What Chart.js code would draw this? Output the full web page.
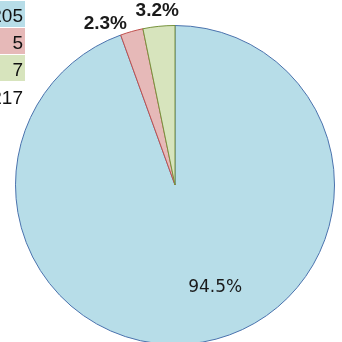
<!DOCTYPE html>
<html>
<head>
<meta charset="utf-8">
<script src="https://cdn.jsdelivr.net/npm/chart.js@4/dist/chart.umd.min.js"></script>
<style>
  html, body { margin: 0; padding: 0; background: #fff; overflow: hidden; }
  #wrap { position: relative; width: 342px; height: 342px; overflow: hidden; }
  #c { position: absolute; left: 0; top: 0; }
</style>
</head>
<body>
<div id="wrap"><canvas id="c" width="342" height="360"></canvas></div>
<script>
const categories = ['A', 'B', 'C'];
const counts = [205, 5, 7];
const fillColors = ['#b7dde8', '#e6b9b8', '#d7e4bd'];
const edgeColors = ['#4a72ad', '#c0504d', '#76923c'];

const total = counts.reduce((a, b) => a + b, 0);
const percentLabels = counts.map(v => (v / total * 100).toFixed(1) + '%');

// count table in the top-left corner, one coloured cell per category plus the total
const countTable = {
  id: 'countTable',
  afterDraw(chart) {
    const ctx = chart.ctx;
    ctx.save();
    ctx.font = '19px "Liberation Sans"';
    ctx.textAlign = 'right';
    ctx.textBaseline = 'middle';
    const rowH = 27, top = 1, cellW = 25, textRight = 23;
    counts.forEach((v, i) => {
      ctx.fillStyle = fillColors[i];
      ctx.fillRect(0, top + i * rowH, cellW, rowH - 1);
      ctx.fillStyle = '#111';
      ctx.fillText(String(v), textRight, top + i * rowH + rowH / 2 + 2);
    });
    ctx.fillStyle = '#111';
    ctx.fillText(String(total), textRight, top + counts.length * rowH + rowH / 2 + 3);
    ctx.restore();
  }
};

// percentage labels: inside for large slices, outside for thin ones
const sliceLabels = {
  id: 'sliceLabels',
  afterDatasetsDraw(chart) {
    const ctx = chart.ctx;
    const arcs = chart.getDatasetMeta(0).data;
    ctx.save();
    ctx.textAlign = 'center';
    ctx.textBaseline = 'middle';
    ctx.fillStyle = '#1a1a1a';
    arcs.forEach((arc, i) => {
      const share = counts[i] / total;
      const mid = (arc.startAngle + arc.endAngle) / 2;
      let x, y;
      if (share > 0.5) {
        ctx.font = '17px "DejaVu Sans"';
        const r = arc.outerRadius * 0.69;
        const a = mid - 0.2;
        x = arc.x + Math.cos(a) * r;
        y = arc.y + Math.sin(a) * r;
      } else {
        ctx.font = 'bold 19px "Liberation Sans"';
        const r = arc.outerRadius + 16;
        x = arc.x + Math.cos(mid) * r;
        y = arc.y + Math.sin(mid) * r;
        // push the smaller neighbour sideways so the two labels do not collide
        if (i === 1) { x -= 22; y += 8; }
      }
      ctx.fillText(percentLabels[i], x, y);
    });
    ctx.restore();
  }
};

new Chart(document.getElementById('c'), {
  type: 'pie',
  data: {
    labels: categories,
    datasets: [{
      data: counts,
      backgroundColor: fillColors,
      borderColor: edgeColors,
      borderWidth: 1
    }]
  },
  options: {
    responsive: false,
    animation: false,
    rotation: 0,
    layout: { padding: { left: 15, right: 7, top: 25, bottom: 15 } },
    plugins: {
      legend: { display: false },
      tooltip: { enabled: false }
    }
  },
  plugins: [countTable, sliceLabels]
});
</script>
</body>
</html>
